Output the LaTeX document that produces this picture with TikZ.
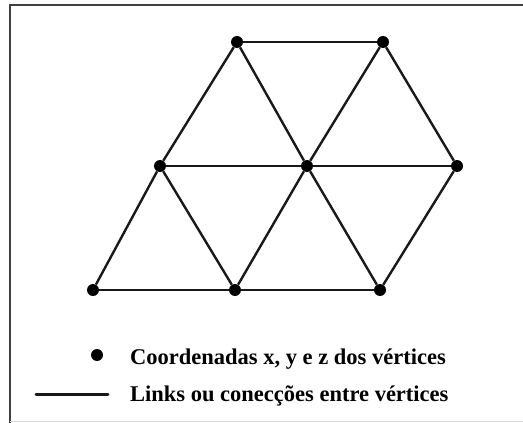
\documentclass[tikz,border=0pt]{standalone}
\usepackage{fontspec}
\setmainfont{Liberation Serif}
\begin{document}
\begin{tikzpicture}[x=1pt,y=-1pt,
  vertex/.style={circle,fill=black,inner sep=0pt,minimum size=12pt},
  link/.style={line width=2.4pt,black!90},
  legendtext/.style={anchor=base west,font=\bfseries\fontsize{22.5}{24}\selectfont,inner sep=0pt}]
  \useasboundingbox (0,0) rectangle (523,423);
  % frame (open on the right)
  \draw[line width=2.6pt,black!75] (523,5) -- (10,5) -- (10,423);
  \draw[line width=0.8pt,black!15] (10,421) -- (523,421);
  % mesh vertices
  \node[vertex] (a1) at (237,42) {};
  \node[vertex] (a2) at (383,42) {};
  \node[vertex] (b1) at (160,166) {};
  \node[vertex] (b2) at (307,166) {};
  \node[vertex] (b3) at (457,166) {};
  \node[vertex] (c1) at (93,290) {};
  \node[vertex] (c2) at (235,290) {};
  \node[vertex] (c3) at (380,290) {};
  % links
  \draw[link] (a1) -- (a2);
  \draw[link] (a1) -- (b1);
  \draw[link] (a1) -- (b2);
  \draw[link] (a2) -- (b2);
  \draw[link] (a2) -- (b3);
  \draw[link] (b1) -- (b2);
  \draw[link] (b2) -- (b3);
  \draw[link] (b1) -- (c1);
  \draw[link] (b1) -- (c2);
  \draw[link] (b2) -- (c2);
  \draw[link] (b2) -- (c3);
  \draw[link] (b3) -- (c3);
  \draw[link] (c1) -- (c2);
  \draw[link] (c2) -- (c3);
  % legend
  \node[vertex] (ldot) at (97,355) {};
  \node[legendtext] (ltext1) at (130,364) {Coordenadas x, y e z dos vértices};
  \coordinate (lineA) at (36,394);
  \coordinate (lineB) at (108,394);
  \draw[link,line width=3pt,line cap=round] (lineA) -- (lineB);
  \node[legendtext] (ltext2) at (130,401) {Links ou conecções entre vértices};
\end{tikzpicture}
\end{document}
